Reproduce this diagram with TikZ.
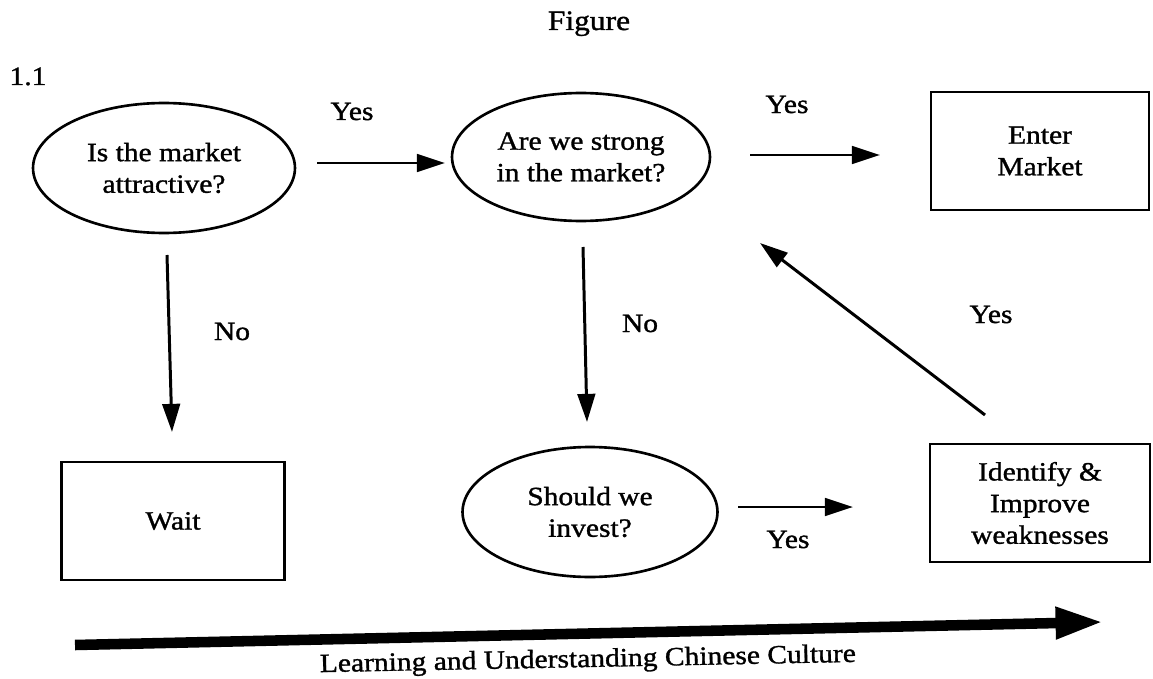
\documentclass[tikz,border=0pt]{standalone}
\usepackage{fontspec}
\setmainfont{Liberation Serif}[FakeStretch=1.12, FakeBold=1.2]
\usetikzlibrary{arrows.meta,shapes.geometric}

\tikzset{
  question/.style={draw, ellipse, line width=1.5pt, inner sep=0pt, minimum width=5.2cm, minimum height=2.6cm, align=center},
  action/.style={draw, rectangle, line width=1.5pt, inner sep=0pt, minimum width=4.4cm, minimum height=2.36cm, align=center},
  flow/.style={-{Triangle[length=16pt,width=10pt]}, line width=1.7pt},
  lbl/.style={anchor=base},
}

\begin{document}
\begin{tikzpicture}[x=0.02cm, y=-0.02cm, font=\fontsize{15}{18}\selectfont]
    \useasboundingbox (0,0) rectangle (1153,679);
    \node[lbl, font=\fontsize{16}{19}\selectfont] (title) at (589,30) {Figure};
    \node[lbl] (num) at (28,85) {1.1};

    % questions and actions
    \node[question, minimum width=5.24cm] (attractive) at (164,168) {Is the market\\attractive?};
    \node[question, minimum width=5.16cm, minimum height=2.56cm] (strong) at (581,157) {Are we strong\\in the market?};
    \node[question, minimum width=5.1cm] (invest) at (590,512) {Should we\\invest?};
    \node[action, minimum width=4.36cm] (enter) at (1040,151) {Enter\\Market};
    \node[action, minimum width=4.46cm] (wait) at (173,521) {Wait};
    \node[action, minimum width=4.4cm] (improve) at (1040,503) {Identify \&\\Improve\\weaknesses};

    % arrow ends
    \coordinate (att-out) at (317,163);
    \coordinate (str-in) at (445,163);
    \coordinate (str-out) at (750,155);
    \coordinate (ent-in) at (880,155);
    \coordinate (att-down) at (167,255);
    \coordinate (wait-in) at (172,432);
    \coordinate (str-down) at (583,247);
    \coordinate (inv-in) at (587,422);
    \coordinate (inv-out) at (738,507);
    \coordinate (imp-in) at (853,507);
    \coordinate (imp-up) at (985,415);
    \coordinate (str-back) at (760,243);

    \draw[flow] (att-out) -- (str-in);
    \draw[flow] (str-out) -- (ent-in);
    \draw[flow] (att-down) -- (wait-in);
    \draw[flow] (str-down) -- (inv-in);
    \draw[flow] (inv-out) -- (imp-in);
    \draw[flow] (imp-up) -- (str-back);

    \node[lbl] (yes1) at (352,120) {Yes};
    \node[lbl] (yes2) at (787,113) {Yes};
    \node[lbl] (no1) at (232,340) {No};
    \node[lbl] (no2) at (640,332) {No};
    \node[lbl] (yes3) at (991,323) {Yes};
    \node[lbl] (yes4) at (788,548) {Yes};

    % culture
    \coordinate (learn-a) at (75,645);
    \coordinate (learn-b) at (1103,622);
    \draw[line width=6pt, -{Triangle[length=27pt,width=17pt]}] (learn-a) -- (learn-b);
    \node[lbl, rotate=1.1] (culture) at (588,667) {Learning and Understanding Chinese Culture};
\end{tikzpicture}
\end{document}
